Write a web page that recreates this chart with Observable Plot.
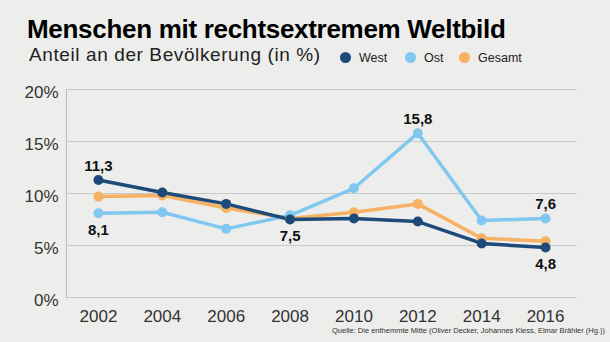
<!DOCTYPE html>
<html><head><meta charset="utf-8">
<script src="https://cdn.jsdelivr.net/npm/d3@7"></script>
<script src="https://cdn.jsdelivr.net/npm/@observablehq/plot@0.6"></script>
<style>
body{margin:0;background:#ededeb;}
#wrap{position:relative;width:610px;height:342px;overflow:hidden;background:#ededeb;font-family:"Liberation Sans",Arial,sans-serif;}
#title{position:absolute;left:27px;top:14px;font-weight:bold;font-size:26px;letter-spacing:-0.3px;color:#000;white-space:nowrap;font-family:"Liberation Sans Narrow","Liberation Sans",sans-serif;}
#sub{position:absolute;left:29px;top:44px;font-size:19px;letter-spacing:0.6px;color:#222;white-space:nowrap;}
.leg{position:absolute;top:51px;font-size:12.5px;color:#222;white-space:nowrap;}
.leg i{display:inline-block;width:11px;height:11px;border-radius:50%;margin-right:8px;vertical-align:-1px;}
#chart{position:absolute;left:0;top:75px;}
#src{position:absolute;right:5px;top:326px;font-size:7.5px;color:#333;font-family:"Liberation Sans Narrow","Liberation Sans",sans-serif;white-space:nowrap;}
</style></head>
<body>
<div id="wrap">
<div id="title">Menschen mit rechtsextremem Weltbild</div>
<div id="sub">Anteil an der Bevölkerung (in %)</div>
<div id="legend"></div>
<div id="chart"></div>
<div id="src">Quelle: Die enthemmte Mitte (Oliver Decker, Johannes Kiess, Elmar Brähler (Hg.))</div>
</div>
<script>
const years = [2002, 2004, 2006, 2008, 2010, 2012, 2014, 2016];
const west = [11.3, 10.1, 9.0, 7.5, 7.6, 7.3, 5.2, 4.8];
const ost = [8.1, 8.2, 6.6, 7.9, 10.5, 15.8, 7.4, 7.6];
const gesamt = [9.7, 9.8, 8.6, 7.6, 8.2, 9.0, 5.7, 5.4];
const seriesNames = ["West", "Ost", "Gesamt"];
const seriesColors = ["#1d4a78", "#80c8f0", "#f6b262"];
const yTicks = [0, 5, 10, 15, 20];
const annotations = [
  {year: 2002, value: 11.3, text: "11,3", pos: "above"},
  {year: 2002, value: 8.1, text: "8,1", pos: "below"},
  {year: 2008, value: 7.5, text: "7,5", pos: "below"},
  {year: 2012, value: 15.8, text: "15,8", pos: "above"},
  {year: 2016, value: 7.6, text: "7,6", pos: "above"},
  {year: 2016, value: 4.8, text: "4,8", pos: "below"}
];

const seriesValues = {West: west, Ost: ost, Gesamt: gesamt};
const drawOrder = ["Gesamt", "Ost", "West"];
const data = drawOrder.flatMap(s => years.map((y, i) => ({series: s, year: y, value: seriesValues[s][i]})));

// legend
const legendX = [340, 405, 459];
const legend = document.getElementById("legend");
seriesNames.forEach((n, i) => {
  const d = document.createElement("div");
  d.className = "leg";
  d.style.left = legendX[i] + "px";
  d.innerHTML = `<i style="background:${seriesColors[i]}"></i>${n}`;
  legend.appendChild(d);
});

const chart = Plot.plot({
  width: 610,
  height: 267,
  marginLeft: 66,
  marginRight: 33,
  marginTop: 14,
  marginBottom: 45,
  style: {background: "transparent", fontFamily: "'Liberation Sans', Arial, sans-serif"},
  x: {domain: [2001, 2017], label: null},
  y: {domain: [0, 20], label: null},
  color: {domain: seriesNames, range: seriesColors},
  marks: [
    Plot.ruleY(yTicks, {stroke: "#c9c9c7", strokeWidth: 1}),
    Plot.ruleX([2001], {y1: 0, y2: 20, stroke: "#bdbdbb", strokeWidth: 1}),
    Plot.axisY({ticks: yTicks, tickFormat: d => d + "%", tickSize: 0, tickPadding: 8, fontSize: 17, fill: "#333", dy: 3, label: null}),
    Plot.axisX({ticks: years, tickFormat: d => String(d), tickSize: 0, tickPadding: 12, fontSize: 17, fill: "#333", label: null}),
    Plot.line(data, {x: "year", y: "value", z: "series", stroke: "series", strokeWidth: 3.5, strokeLinejoin: "round"}),
    Plot.dot(data, {x: "year", y: "value", fill: "series", r: 5}),
    Plot.text(annotations.filter(a => a.pos === "above"), {x: "year", y: "value", text: "text", dy: -14, fontSize: 15, fontWeight: "bold", fill: "#111"}),
    Plot.text(annotations.filter(a => a.pos === "below"), {x: "year", y: "value", text: "text", dy: 17, fontSize: 15, fontWeight: "bold", fill: "#111"})
  ]
});
document.getElementById("chart").appendChild(chart);
</script>
</body></html>
